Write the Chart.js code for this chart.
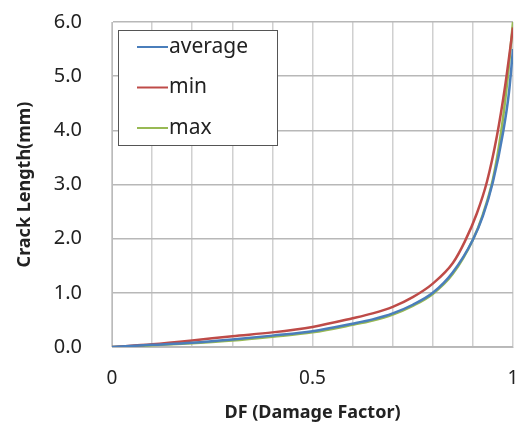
<!DOCTYPE html>
<html>
<head>
<meta charset="utf-8">
<script src="https://cdn.jsdelivr.net/npm/chart.js@4/dist/chart.umd.min.js"></script>
<style>
  html, body { margin: 0; padding: 0; background: #fff; }
  #wrap { width: 520px; height: 424px; }
</style>
</head>
<body>
<div id="wrap"><canvas id="myChart" width="520" height="424"></canvas></div>
<script>
// values (DF vs crack length, mm)
var avgX = [0, 0.1, 0.2, 0.3, 0.4, 0.5, 0.6, 0.65, 0.7, 0.75, 0.8, 0.85, 0.9, 0.925, 0.95, 0.975, 0.99, 1.0];
var avgY = [0, 0.04, 0.08, 0.14, 0.21, 0.29, 0.43, 0.51, 0.62, 0.78, 1.0, 1.38, 1.98, 2.42, 3.05, 3.95, 4.7, 5.5];
var minX = [0, 0.1, 0.2, 0.3, 0.4, 0.5, 0.6, 0.65, 0.7, 0.75, 0.8, 0.85, 0.88, 0.91, 0.935, 0.96, 0.98, 1.0];
var minY = [0, 0.05, 0.12, 0.2, 0.27, 0.37, 0.53, 0.62, 0.74, 0.92, 1.17, 1.55, 1.95, 2.47, 3.05, 3.9, 4.8, 5.9];
var maxX = [0, 0.1, 0.2, 0.3, 0.4, 0.5, 0.6, 0.65, 0.7, 0.75, 0.8, 0.85, 0.9, 0.925, 0.95, 0.97, 0.985, 1.0];
var maxY = [0, 0.03, 0.07, 0.12, 0.19, 0.27, 0.41, 0.49, 0.6, 0.76, 0.98, 1.35, 1.98, 2.45, 3.1, 3.95, 4.85, 6.0];
var seriesNames = ['average', 'min', 'max'];
var seriesColors = ['#4a7ebb', '#be4b48', '#98b954'];
var xTickLabels = ['0', '0.5', '1'];

function pts(xs, ys) {
    var out = [];
    for (let i = 0; i < xs.length; i++) out.push({x: xs[i], y: ys[i]});
    return out;
}

// legend box drawn inside the plot, top-left
var boxLegend = {
    id: 'boxLegend',
    afterDraw(chart) {
        var c = chart.ctx;
        var a = chart.chartArea;
        var x0 = a.left + 6, y0 = a.top + 8, w = 159, h = 115;
        c.save();
        c.fillStyle = '#fff';
        c.fillRect(x0, y0, w, h);
        c.strokeStyle = '#555';
        c.lineWidth = 1;
        c.strokeRect(x0 + 0.5, y0 + 0.5, w, h);
        c.font = '21px "Noto Sans"';
        c.textBaseline = 'middle';
        chart.data.datasets.forEach((ds, i) => {
            var yy = y0 + 17 + i * 40.5;
            c.strokeStyle = ds.borderColor;
            c.lineWidth = 2;
            c.beginPath();
            c.moveTo(x0 + 19, yy);
            c.lineTo(x0 + 50, yy);
            c.stroke();
            c.fillStyle = '#222';
            c.fillText(ds.label, x0 + 51, yy);
        });
        c.restore();
    }
};

var ctx = document.getElementById('myChart').getContext('2d');
var myChart = new Chart(ctx, {
    type: 'scatter',
    data: {
        datasets: [
            {label: seriesNames[0], data: pts(avgX, avgY), borderColor: seriesColors[0]},
            {label: seriesNames[1], data: pts(minX, minY), borderColor: seriesColors[1]},
            {label: seriesNames[2], data: pts(maxX, maxY), borderColor: seriesColors[2]}
        ].map(d => Object.assign(d, {showLine: true, pointRadius: 0, borderWidth: 2.5, cubicInterpolationMode: 'monotone', backgroundColor: d.borderColor}))
    },
    options: {
        responsive: false,
        animation: false,
        layout: {padding: {top: 22, right: 7, left: 0, bottom: 0}},
        plugins: {legend: {display: false}, tooltip: {enabled: false}},
        scales: {
            x: {
                type: 'linear', min: 0, max: 1,
                afterFit(s) { s.height = 77; s.paddingLeft = 0; s.paddingRight = 0; },
                grid: {color: '#d0d0d0', lineWidth: 1.5, drawTicks: false},
                border: {color: '#bbb'},
                ticks: {
                    stepSize: 0.1, padding: 20, color: '#222', maxRotation: 0, autoSkip: false,
                    font: {family: 'Noto Sans', size: 19},
                    callback: function (v) {
                        var r = Math.round(v * 10);
                        return r % 5 === 0 ? xTickLabels[r / 5] : '';
                    }
                },
                title: {display: true, text: 'DF (Damage Factor)', color: '#222', padding: {top: 4, bottom: 0},
                    font: {family: 'Noto Sans', size: 18, weight: 'bold'}}
            },
            y: {
                min: 0, max: 6,
                afterFit(s) { s.width = 112; s.paddingTop = 0; s.paddingBottom = 0; },
                grid: {color: '#b8b8b8', lineWidth: 1.5, drawTicks: false},
                border: {color: '#bbb'},
                ticks: {
                    stepSize: 1, padding: 30, color: '#222',
                    font: {family: 'Noto Sans', size: 20},
                    callback: v => v.toFixed(1)
                },
                title: {display: true, text: 'Crack Length(mm)', color: '#222', padding: {top: 14, bottom: 0},
                    font: {family: 'Noto Sans', size: 18, weight: 'bold'}}
            }
        }
    },
    plugins: [boxLegend]
});
</script>
</body>
</html>
